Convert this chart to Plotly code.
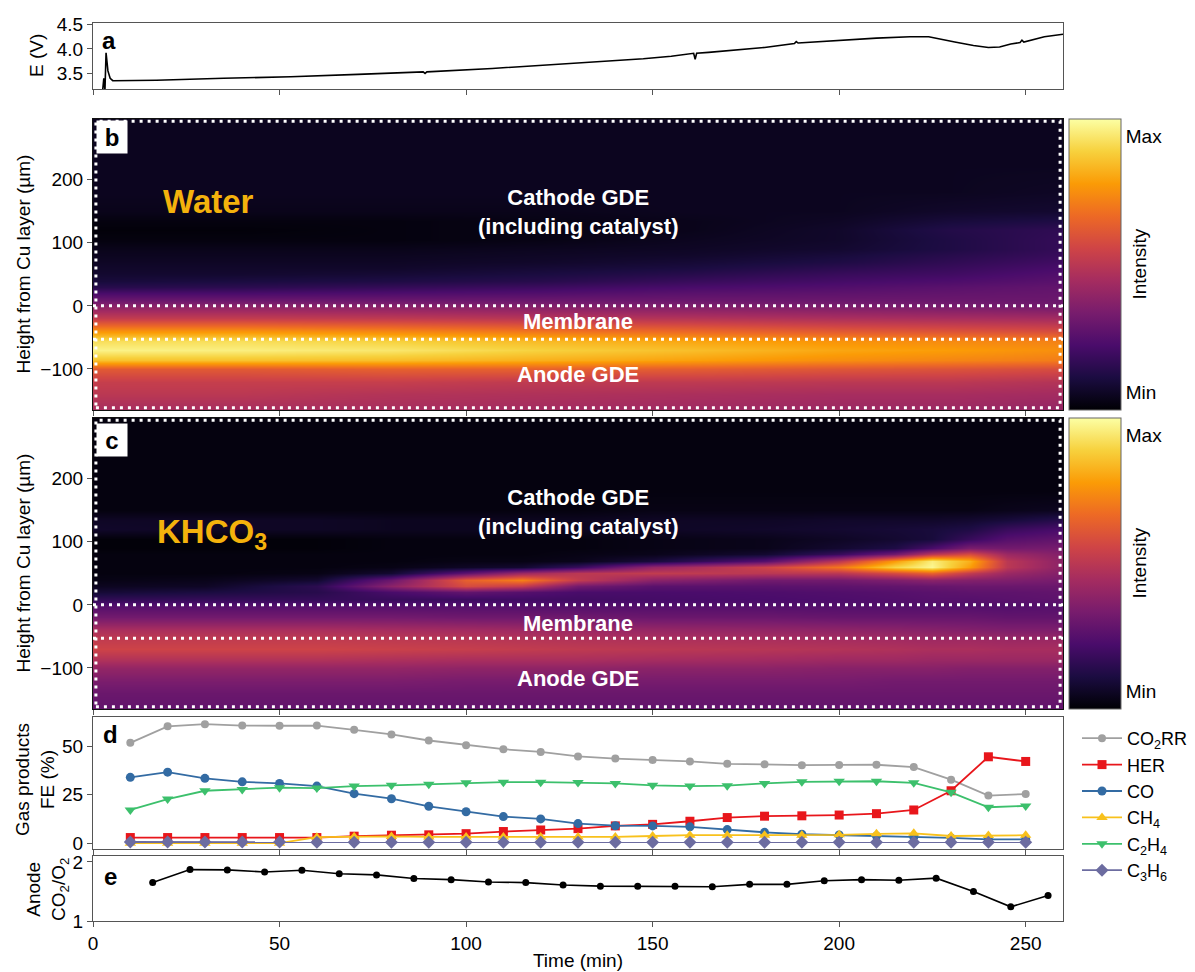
import numpy as np
import plotly.graph_objects as go

FONT = "Liberation Sans, Arial, sans-serif"

# ---------------- Panel a: cell voltage ----------------
t_volt = [2.4, 2.9, 3.2, 3.5, 4.0, 4.6, 5.3, 8, 17, 35, 53, 71, 88.5, 89, 89.5, 107, 131,
          147.5, 155, 161, 161.4, 161.8, 165, 170, 180, 188, 188.5, 189, 195, 201, 210, 219,
          224, 231, 236, 240, 243, 246, 248.5, 249, 249.5, 255, 260]
E_volt = [3.00, 3.40, 3.15, 3.92, 3.55, 3.40, 3.35, 3.35, 3.36, 3.40, 3.43, 3.48, 3.53, 3.50,
          3.53, 3.60, 3.71, 3.80, 3.85, 3.91, 3.79, 3.91, 3.93, 3.96, 4.03, 4.11, 4.15, 4.12,
          4.15, 4.18, 4.22, 4.25, 4.25, 4.14, 4.07, 4.03, 4.04, 4.10, 4.13, 4.18, 4.14, 4.25,
          4.30]

# ---------------- Panels b, c: intensity maps ----------------
heights = [-165, -140, -120, -100, -85, -70, -55, -40, -20, 0, 10, 20, 30, 40, 50, 60, 70, 80,
           90, 105, 120, 135, 150, 180, 220, 260, 296]

t_water = [0, 40, 80, 120, 160, 200, 230, 260]
water_profiles = [
    [0.45, 0.50, 0.53, 0.62, 0.86, 0.97, 0.92, 0.76, 0.52, 0.38, 0.30, 0.22, 0.14, 0.10, 0.08, 0.07, 0.06, 0.05, 0.04, 0.02, 0.01, 0.02, 0.04, 0.05, 0.05, 0.05, 0.05],
    [0.45, 0.50, 0.53, 0.62, 0.86, 0.96, 0.92, 0.76, 0.52, 0.38, 0.30, 0.22, 0.15, 0.11, 0.08, 0.07, 0.06, 0.05, 0.04, 0.02, 0.01, 0.02, 0.04, 0.05, 0.05, 0.05, 0.05],
    [0.45, 0.48, 0.53, 0.64, 0.85, 0.94, 0.89, 0.73, 0.51, 0.37, 0.30, 0.23, 0.17, 0.12, 0.09, 0.07, 0.06, 0.05, 0.04, 0.02, 0.02, 0.02, 0.04, 0.05, 0.05, 0.05, 0.05],
    [0.44, 0.47, 0.51, 0.64, 0.82, 0.89, 0.84, 0.69, 0.49, 0.36, 0.30, 0.24, 0.19, 0.14, 0.11, 0.09, 0.07, 0.06, 0.05, 0.03, 0.03, 0.03, 0.04, 0.05, 0.05, 0.05, 0.05],
    [0.43, 0.46, 0.51, 0.63, 0.79, 0.85, 0.80, 0.66, 0.48, 0.35, 0.30, 0.26, 0.22, 0.18, 0.14, 0.11, 0.09, 0.07, 0.06, 0.05, 0.04, 0.04, 0.05, 0.05, 0.05, 0.05, 0.05],
    [0.42, 0.45, 0.50, 0.61, 0.75, 0.80, 0.76, 0.62, 0.46, 0.34, 0.30, 0.27, 0.24, 0.21, 0.18, 0.15, 0.12, 0.10, 0.08, 0.07, 0.07, 0.06, 0.05, 0.05, 0.05, 0.05, 0.05],
    [0.42, 0.45, 0.50, 0.60, 0.73, 0.78, 0.74, 0.60, 0.45, 0.33, 0.30, 0.28, 0.26, 0.23, 0.20, 0.18, 0.16, 0.14, 0.12, 0.12, 0.13, 0.10, 0.07, 0.05, 0.05, 0.05, 0.05],
    [0.40, 0.44, 0.48, 0.58, 0.71, 0.75, 0.72, 0.58, 0.44, 0.32, 0.30, 0.29, 0.28, 0.26, 0.24, 0.22, 0.20, 0.18, 0.17, 0.17, 0.16, 0.12, 0.08, 0.06, 0.05, 0.05, 0.05],
]

t_khco3 = [0, 30, 60, 80, 100, 115, 130, 150, 180, 200, 215, 225, 235, 245, 260]
khco3_profiles = [
    [0.28, 0.30, 0.34, 0.40, 0.48, 0.55, 0.52, 0.46, 0.32, 0.24, 0.16, 0.09, 0.05, 0.03, 0.02, 0.02, 0.02, 0.02, 0.01, 0.01, 0.07, 0.06, 0.02, 0.02, 0.02, 0.02, 0.02],
    [0.28, 0.30, 0.34, 0.40, 0.48, 0.55, 0.52, 0.46, 0.32, 0.24, 0.17, 0.11, 0.06, 0.04, 0.02, 0.02, 0.02, 0.02, 0.01, 0.01, 0.06, 0.06, 0.02, 0.02, 0.02, 0.02, 0.02],
    [0.28, 0.30, 0.34, 0.40, 0.48, 0.55, 0.52, 0.46, 0.32, 0.24, 0.17, 0.14, 0.15, 0.08, 0.03, 0.02, 0.02, 0.02, 0.01, 0.01, 0.06, 0.06, 0.02, 0.02, 0.02, 0.02, 0.02],
    [0.28, 0.30, 0.34, 0.40, 0.47, 0.54, 0.51, 0.45, 0.32, 0.24, 0.18, 0.22, 0.38, 0.30, 0.08, 0.03, 0.02, 0.02, 0.02, 0.02, 0.05, 0.05, 0.02, 0.02, 0.02, 0.02, 0.02],
    [0.28, 0.30, 0.33, 0.39, 0.46, 0.53, 0.50, 0.44, 0.31, 0.24, 0.19, 0.28, 0.58, 0.64, 0.27, 0.06, 0.03, 0.02, 0.02, 0.02, 0.05, 0.05, 0.02, 0.02, 0.02, 0.02, 0.02],
    [0.28, 0.30, 0.33, 0.39, 0.46, 0.52, 0.49, 0.43, 0.31, 0.24, 0.20, 0.25, 0.52, 0.72, 0.42, 0.08, 0.03, 0.02, 0.02, 0.02, 0.05, 0.05, 0.02, 0.02, 0.02, 0.02, 0.02],
    [0.28, 0.30, 0.33, 0.39, 0.46, 0.51, 0.48, 0.42, 0.31, 0.24, 0.20, 0.22, 0.32, 0.52, 0.50, 0.18, 0.04, 0.03, 0.02, 0.02, 0.05, 0.05, 0.02, 0.02, 0.02, 0.02, 0.02],
    [0.28, 0.30, 0.33, 0.38, 0.45, 0.50, 0.47, 0.41, 0.30, 0.24, 0.21, 0.22, 0.26, 0.38, 0.52, 0.40, 0.10, 0.04, 0.03, 0.03, 0.06, 0.06, 0.03, 0.02, 0.02, 0.02, 0.02],
    [0.28, 0.30, 0.33, 0.38, 0.44, 0.49, 0.46, 0.40, 0.30, 0.24, 0.22, 0.23, 0.26, 0.32, 0.50, 0.55, 0.25, 0.08, 0.04, 0.04, 0.07, 0.06, 0.03, 0.02, 0.02, 0.02, 0.02],
    [0.28, 0.30, 0.33, 0.37, 0.43, 0.48, 0.45, 0.39, 0.29, 0.24, 0.23, 0.24, 0.27, 0.32, 0.50, 0.70, 0.50, 0.18, 0.08, 0.06, 0.08, 0.07, 0.03, 0.02, 0.02, 0.02, 0.02],
    [0.28, 0.30, 0.32, 0.37, 0.43, 0.47, 0.44, 0.38, 0.29, 0.24, 0.24, 0.25, 0.28, 0.35, 0.58, 0.90, 0.78, 0.32, 0.12, 0.08, 0.09, 0.07, 0.03, 0.02, 0.02, 0.02, 0.02],
    [0.28, 0.30, 0.32, 0.37, 0.42, 0.46, 0.43, 0.37, 0.29, 0.24, 0.25, 0.26, 0.29, 0.38, 0.65, 0.98, 0.96, 0.50, 0.22, 0.10, 0.10, 0.07, 0.03, 0.02, 0.02, 0.02, 0.02],
    [0.28, 0.30, 0.32, 0.36, 0.42, 0.46, 0.43, 0.36, 0.29, 0.24, 0.25, 0.27, 0.30, 0.36, 0.52, 0.78, 0.82, 0.58, 0.34, 0.18, 0.12, 0.08, 0.03, 0.02, 0.02, 0.02, 0.02],
    [0.28, 0.30, 0.32, 0.36, 0.42, 0.45, 0.42, 0.35, 0.28, 0.24, 0.26, 0.27, 0.30, 0.35, 0.42, 0.50, 0.50, 0.42, 0.32, 0.25, 0.18, 0.10, 0.04, 0.02, 0.02, 0.02, 0.02],
    [0.28, 0.30, 0.32, 0.36, 0.42, 0.45, 0.42, 0.35, 0.28, 0.25, 0.27, 0.28, 0.30, 0.33, 0.36, 0.38, 0.38, 0.36, 0.33, 0.28, 0.22, 0.14, 0.05, 0.02, 0.02, 0.02, 0.02],
]

membrane_bounds = [0, -53]

# ---------------- Panel d: gas-product Faradaic efficiencies ----------------
t_fe = [10, 20, 30, 40, 50, 60, 70, 80, 90, 100, 110, 120, 130, 140, 150, 160, 170, 180, 190,
        200, 210, 220, 230, 240, 250]
fe_co2rr = [51.7, 60.2, 61.3, 60.6, 60.5, 60.6, 58.4, 56.0, 52.9, 50.5, 48.4, 47.0, 44.7, 43.6,
            42.8, 42.1, 40.9, 40.6, 40.2, 40.3, 40.4, 39.2, 32.7, 24.5, 25.3]
fe_her = [2.9, 2.9, 2.9, 2.9, 2.9, 2.9, 3.6, 4.1, 4.3, 4.9, 6.0, 6.8, 7.5, 8.9, 9.7, 11.3, 13.2,
          13.9, 14.1, 14.5, 15.2, 17.1, 27.0, 44.5, 42.1]
fe_co = [33.9, 36.6, 33.4, 31.6, 30.8, 29.4, 25.5, 22.9, 19.0, 16.2, 13.7, 12.5, 10.1, 9.0, 8.9,
         8.4, 7.0, 5.6, 4.6, 4.2, 3.7, 3.2, 2.7, 2.0, 2.0]
fe_ch4 = [0.0, 0.0, 0.0, 0.0, 0.0, 3.1, 3.3, 3.5, 3.2, 3.2, 3.2, 3.2, 3.2, 3.2, 3.7, 4.1, 4.1,
          4.1, 4.1, 4.3, 4.8, 5.1, 3.7, 3.9, 4.1]
fe_c2h4 = [17.1, 22.7, 27.0, 27.7, 28.6, 28.4, 29.4, 29.8, 30.3, 31.1, 31.4, 31.4, 31.2, 30.8,
           29.8, 29.4, 29.6, 30.8, 31.6, 31.9, 31.9, 31.1, 26.2, 18.5, 19.2]
fe_c3h6 = [0.6, 0.6, 0.6, 0.6, 0.6, 0.5, 0.5, 0.5, 0.5, 0.5, 0.5, 0.5, 0.5, 0.5, 0.5, 0.5, 0.5,
           0.5, 0.5, 0.5, 0.5, 0.5, 0.5, 0.5, 0.5]

fe_series = [
    ("CO<sub>2</sub>RR", fe_co2rr, "#a0a0a0", "circle", 8),
    ("HER", fe_her, "#e8161b", "square", 9),
    ("CO", fe_co, "#336ba3", "circle", 9),
    ("CH<sub>4</sub>", fe_ch4, "#f8c11c", "triangle-up", 10),
    ("C<sub>2</sub>H<sub>4</sub>", fe_c2h4, "#3cc06c", "triangle-down", 10),
    ("C<sub>3</sub>H<sub>6</sub>", fe_c3h6, "#6c6ca0", "diamond", 10),
]

# ---------------- Panel e: anode CO2/O2 ----------------
t_ratio = [16, 26, 36, 46, 56, 66, 76, 86, 96, 106, 116, 126, 136, 146, 156, 166, 176, 186, 196,
           206, 216, 226, 236, 246, 256]
ratio = [1.65, 1.87, 1.865, 1.83, 1.86, 1.80, 1.78, 1.72, 1.70, 1.66, 1.65, 1.61, 1.59, 1.59,
         1.59, 1.58, 1.62, 1.62, 1.68, 1.70, 1.69, 1.725, 1.50, 1.24, 1.43]

time_ticks = [0, 50, 100, 150, 200, 250]

# ---------------- layout geometry (page pixels -> paper) ----------------
PAGE_OFF = 8                       # default body margin of the html page
W, H = 1195 - PAGE_OFF, 972 - PAGE_OFF
ML, MR, MT, MB = 93 - PAGE_OFF, 132, 23 - PAGE_OFF, 51
PW, PH = W - ML - MR, H - MT - MB
X0, Y1 = ML + PAGE_OFF, MT + PAGE_OFF + PH   # page coords of plot-area left / bottom


def ypaper(py):
    return (Y1 - py) / PH


def xpaper(px):
    return (px - X0) / PW


dom_a = [ypaper(89), ypaper(23)]
dom_b = [ypaper(410), ypaper(119)]
dom_c = [ypaper(709), ypaper(418)]
dom_d = [ypaper(849), ypaper(717)]
dom_e = [ypaper(921), ypaper(856)]

fig = go.Figure()

fig.add_trace(go.Scatter(x=t_volt, y=E_volt, mode="lines", line=dict(color="black", width=1.6),
                         xaxis="x", yaxis="y", showlegend=False, hoverinfo="skip"))


def cbar(dom):
    return dict(x=xpaper(1069), xanchor="left", xpad=0, ypad=0, thickness=52,
                lenmode="fraction", len=dom[1] - dom[0], y=(dom[0] + dom[1]) / 2,
                yanchor="middle", tickvals=[0.06, 0.94], ticktext=["Min", "Max"], ticks="",
                tickfont=dict(size=19, family=FONT, color="black"),
                outlinewidth=1, outlinecolor="#666")


fig.add_trace(go.Heatmap(x=t_water, y=heights, z=np.array(water_profiles).T.tolist(),
                         colorscale="Inferno", zmin=0, zmax=1, zsmooth="best",
                         xaxis="x2", yaxis="y2", colorbar=cbar(dom_b), hoverinfo="skip"))
fig.add_trace(go.Heatmap(x=t_khco3, y=heights, z=np.array(khco3_profiles).T.tolist(),
                         colorscale="Inferno", zmin=0, zmax=1, zsmooth="best",
                         xaxis="x3", yaxis="y3", colorbar=cbar(dom_c), hoverinfo="skip"))

for name, vals, col, sym, ms in fe_series:
    fig.add_trace(go.Scatter(x=t_fe, y=vals, mode="lines+markers", name=name,
                             line=dict(color=col, width=1.8),
                             marker=dict(color=col, symbol=sym, size=ms),
                             xaxis="x4", yaxis="y4", hoverinfo="skip"))

fig.add_trace(go.Scatter(x=t_ratio, y=ratio, mode="lines+markers",
                         line=dict(color="black", width=1.6),
                         marker=dict(color="black", size=7),
                         xaxis="x5", yaxis="y5", showlegend=False, hoverinfo="skip"))

axis_common = dict(showgrid=False, zeroline=False, showline=True, mirror=True,
                   linecolor="#555", linewidth=1.2, ticks="outside", ticklen=5,
                   tickcolor="#555", tickfont=dict(size=19, family=FONT, color="black"),
                   automargin=False)

xcommon = dict(axis_common, range=[0, 260], tickvals=time_ticks, domain=[0, 1])

fig.update_layout(
    xaxis=dict(xcommon, anchor="y", showticklabels=False),
    xaxis2=dict(xcommon, anchor="y2", showticklabels=False, linecolor="#111"),
    xaxis3=dict(xcommon, anchor="y3", showticklabels=False, linecolor="#111"),
    xaxis4=dict(xcommon, anchor="y4", showticklabels=False),
    xaxis5=dict(xcommon, anchor="y5", ticktext=[str(v) for v in time_ticks],
                title=dict(text="Time (min)", font=dict(size=19, family=FONT, color="black"),
                           standoff=0)),
    yaxis=dict(axis_common, domain=dom_a, anchor="x", range=[3.18, 4.53],
               tickvals=[3.5, 4.0, 4.5], tickformat=".1f"),
    yaxis2=dict(axis_common, domain=dom_b, anchor="x2", range=[-165, 296],
                tickvals=[-100, 0, 100, 200], linecolor="#111"),
    yaxis3=dict(axis_common, domain=dom_c, anchor="x3", range=[-165, 296],
                tickvals=[-100, 0, 100, 200], linecolor="#111"),
    yaxis4=dict(axis_common, domain=dom_d, anchor="x4", range=[-3, 65],
                tickvals=[0, 25, 50]),
    yaxis5=dict(axis_common, domain=dom_e, anchor="x5", range=[1, 2.1],
                tickvals=[1, 2]),
)

# dotted white overlays on the maps
shapes = []
for xr, yr in (("x2", "y2"), ("x3", "y3")):
    shapes.append(dict(type="rect", xref=xr + " domain", yref=yr + " domain",
                       x0=0.003, x1=0.997, y0=0.008, y1=0.992,
                       line=dict(color="white", width=3, dash="3px,5px")))
    for yb in membrane_bounds:
        shapes.append(dict(type="line", xref=xr + " domain", yref=yr, x0=0, x1=1, y0=yb,
                           y1=yb, line=dict(color="white", width=3, dash="3px,5px")))

ann = []
lbl = dict(size=22, family=FONT, color="white")
for xr, yr, dy in (("x2", "y2", 0), ("x3", "y3", 1)):
    cath_y = 149 if dy == 0 else 147
    mem_y = -25 if dy == 0 else -29
    an_y = -109 if dy == 0 else -116
    ann.append(dict(xref=xr, yref=yr, x=130, y=cath_y, showarrow=False, font=lbl,
                    text="<b>Cathode GDE<br>(including catalyst)</b>"))
    ann.append(dict(xref=xr, yref=yr, x=130, y=mem_y, showarrow=False, font=lbl,
                    text="<b>Membrane</b>"))
    ann.append(dict(xref=xr, yref=yr, x=130, y=an_y, showarrow=False, font=lbl,
                    text="<b>Anode GDE</b>"))

gold = dict(size=33, family=FONT, color="#f4b20c")
ann.append(dict(xref="x2", yref="y2", x=31, y=165, showarrow=False, font=gold,
                text="<b>Water</b>"))
ann.append(dict(xref="x3", yref="y3", x=32, y=112, showarrow=False, font=gold,
                text="<b>KHCO<sub>3</sub></b>"))

letter = dict(size=24, family=FONT, color="black")


def letter_ann(px, py, t):
    return dict(xref="paper", yref="paper", x=xpaper(px), y=ypaper(py), xanchor="center",
                yanchor="middle", showarrow=False, font=letter, text="<b>%s</b>" % t)


ann.append(letter_ann(109, 41, "a"))
for yy, t in ((120, "b"), (423, "c")):
    ann.append(dict(xref="paper", yref="paper", x=xpaper(96), y=ypaper(yy), xanchor="left",
                    yanchor="top", showarrow=False, font=letter, text="<b>%s</b>" % t,
                    bgcolor="white", width=28, height=30, borderpad=1))
ann.append(letter_ann(110, 734, "d"))
ann.append(letter_ann(110, 876, "e"))

tfont = dict(size=19, family=FONT, color="black")


def vtitle(px, ymid, text):
    return dict(xref="paper", yref="paper", x=xpaper(px), y=ymid, xanchor="center",
                yanchor="middle", textangle=-90, showarrow=False, font=tfont, text=text)


ann.append(vtitle(36, (dom_a[0] + dom_a[1]) / 2, "E (V)"))
for dom in (dom_b, dom_c):
    ann.append(vtitle(23, (dom[0] + dom[1]) / 2, "Height from Cu layer (µm)"))
    ann.append(vtitle(1139, (dom[0] + dom[1]) / 2, "Intensity"))
ann.append(vtitle(35, ypaper(780), "Gas products<br>FE (%)"))
ann.append(vtitle(47, ypaper(890), "Anode<br>CO<sub>2</sub>/O<sub>2</sub>"))

fig.update_layout(
    width=W, height=H, margin=dict(l=ML, r=MR, t=MT, b=MB, autoexpand=False),
    paper_bgcolor="white", plot_bgcolor="white",
    font=dict(family=FONT, size=19, color="black"),
    shapes=shapes, annotations=ann,
    legend=dict(x=xpaper(1077), xanchor="left", y=ypaper(720), yanchor="top",
                font=dict(size=18, family=FONT, color="black"), bgcolor="rgba(0,0,0,0)",
                tracegroupgap=0, itemwidth=40),
)

fig.write_html("out.html")
